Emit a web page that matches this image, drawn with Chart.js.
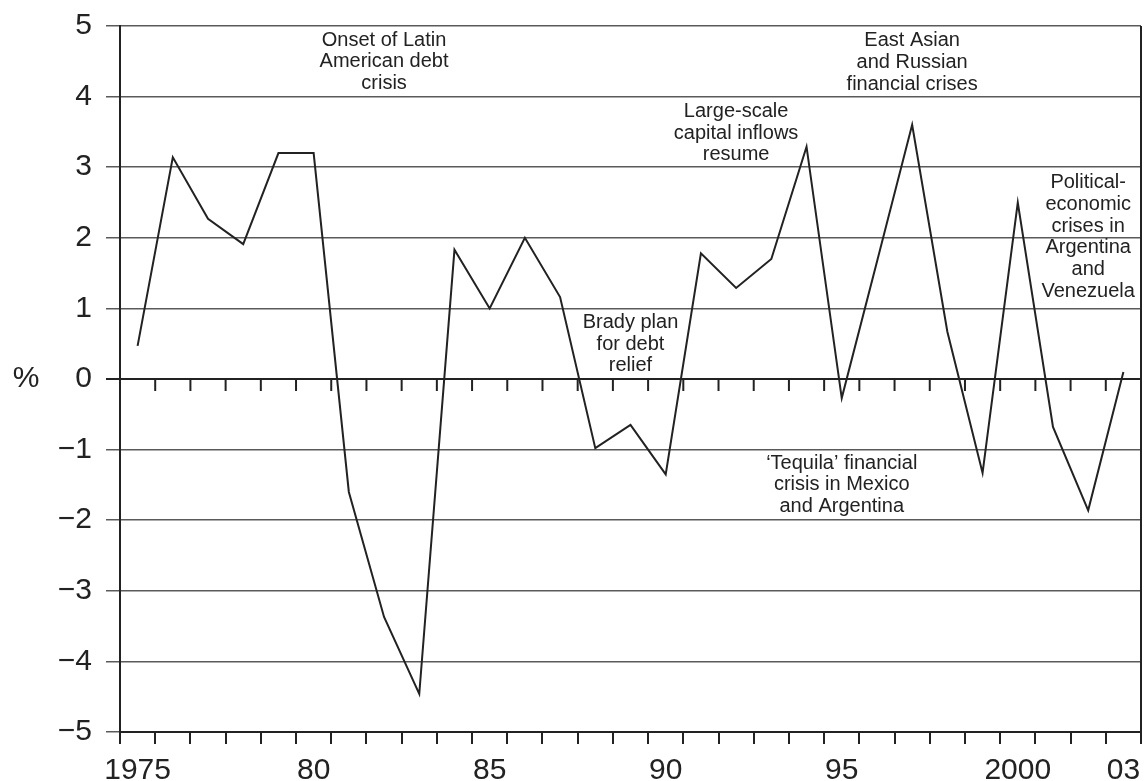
<!DOCTYPE html>
<html lang="en">
<head>
    <meta charset="UTF-8">
    <title>Growth, 1975–2003</title>
    <script src="https://cdn.jsdelivr.net/npm/chart.js"></script>
    <style>
        body {
            margin: 0;
            padding: 0;
            background: #ffffff;
        }
        #wrap {
            width: 1144px;
            height: 781px;
        }
    </style>
</head>
<body>
    <div id="wrap">
        <canvas id="grafico" width="1144" height="781"></canvas>
    </div>
    <script>
        // data
        const years = ['1975', '1976', '1977', '1978', '1979', '1980', '1981', '1982', '1983', '1984',
                       '1985', '1986', '1987', '1988', '1989', '1990', '1991', '1992', '1993', '1994',
                       '1995', '1996', '1997', '1998', '1999', '2000', '2001', '2002', '2003'];
        const growth = [0.47, 3.14, 2.27, 1.91, 3.2, 3.2, -1.6, -3.37, -4.46, 1.83,
                        1.0, 2.0, 1.16, -0.98, -0.65, -1.35, 1.78, 1.29, 1.7, 3.29,
                        -0.27, 1.66, 3.6, 0.67, -1.33, 2.5, -0.68, -1.86, 0.1];
        const tickYears = ['1975', '1980', '1985', '1990', '1995', '2000', '2003'];
        const tickNames = ['1975', '80', '85', '90', '95', '2000', '03'];

        // notes: anchored at a year and a value (first line)
        const notes = [
            { year: '1982', value: 4.8, lines: ['Onset of Latin', 'American debt', 'crisis'] },
            { year: '1997', value: 4.79, lines: ['East Asian', 'and Russian', 'financial crises'] },
            { year: '1992', value: 3.79, lines: ['Large-scale', 'capital inflows', 'resume'] },
            { year: '2002', value: 2.78, lines: ['Political-', 'economic', 'crises in', 'Argentina', 'and', 'Venezuela'] },
            { year: '1989', value: 0.8, lines: ['Brady plan', 'for debt', 'relief'] },
            { year: '1995', value: -1.19, lines: ['\u2018Tequila\u2019 financial', 'crisis in Mexico', 'and Argentina'] }
        ];

        const FONT = '"Liberation Sans", Arial, Helvetica, sans-serif';
        const INK = '#222';

        const extras = {
            id: 'extras',
            afterDraw(chart) {
                const { ctx, chartArea, scales: { x, y } } = chart;
                const y0 = y.getPixelForValue(0);
                ctx.save();

                // small ticks hanging from the zero line
                ctx.strokeStyle = INK;
                ctx.lineWidth = 2;
                ctx.beginPath();
                for (let i = 1; i < years.length; i++) {
                    const bx = (x.getPixelForValue(i - 1) + x.getPixelForValue(i)) / 2;
                    ctx.moveTo(bx, y0);
                    ctx.lineTo(bx, y0 + 12);
                }
                // right frame
                ctx.moveTo(chartArea.right, chartArea.top);
                ctx.lineTo(chartArea.right, chartArea.bottom);
                ctx.stroke();

                // % sign
                ctx.fillStyle = INK;
                ctx.font = '30px ' + FONT;
                ctx.textAlign = 'center';
                ctx.textBaseline = 'middle';
                ctx.fillText('%', 26, y0);

                // notes
                ctx.font = '20px ' + FONT;
                notes.forEach(n => {
                    const cx = x.getPixelForValue(years.indexOf(n.year));
                    const cy = y.getPixelForValue(n.value);
                    n.lines.forEach((t, k) => ctx.fillText(t, cx, cy + k * 21.7));
                });
                ctx.restore();
            }
        };

        const ctx = document.getElementById('grafico').getContext('2d');
        new Chart(ctx, {
            type: 'line',
            data: {
                labels: years,
                datasets: [{
                    data: growth,
                    borderColor: INK,
                    borderWidth: 2,
                    pointRadius: 0,
                    tension: 0,
                    fill: false
                }]
            },
            options: {
                responsive: false,
                animation: false,
                layout: { padding: { top: 26, right: 3, left: 0, bottom: 0 } },
                plugins: {
                    legend: { display: false },
                    tooltip: { enabled: false }
                },
                scales: {
                    x: {
                        type: 'category',
                        offset: true,
                        afterFit(scale) {
                            scale.height = 49;
                            scale.paddingLeft = 0;
                            scale.paddingRight = 0;
                        },
                        grid: {
                            offset: true,
                            drawOnChartArea: false,
                            drawTicks: true,
                            tickLength: 12,
                            color: INK,
                            lineWidth: 2
                        },
                        border: { display: true, color: INK, width: 2 },
                        ticks: {
                            autoSkip: false,
                            maxRotation: 0,
                            padding: 9,
                            color: INK,
                            font: { family: FONT, size: 30 },
                            callback: (val, idx) => {
                                const k = tickYears.indexOf(years[idx]);
                                return k >= 0 ? tickNames[k] : '';
                            }
                        }
                    },
                    y: {
                        min: -5,
                        max: 5,
                        afterFit(scale) {
                            scale.width = 120;
                            scale.paddingTop = 0;
                            scale.paddingBottom = 0;
                        },
                        grid: {
                            color: c => (c.tick && c.tick.value === 0) ? INK : '#5a5a5a',
                            lineWidth: c => (c.tick && c.tick.value === 0) ? 2 : 1.5,
                            tickLength: 14
                        },
                        border: { display: true, color: INK, width: 2 },
                        ticks: {
                            stepSize: 1,
                            padding: 14,
                            color: INK,
                            font: { family: FONT, size: 30 },
                            callback: v => v < 0 ? '\u2212' + Math.abs(v) : String(v)
                        }
                    }
                }
            },
            plugins: [extras]
        });
    </script>
</body>
</html>
